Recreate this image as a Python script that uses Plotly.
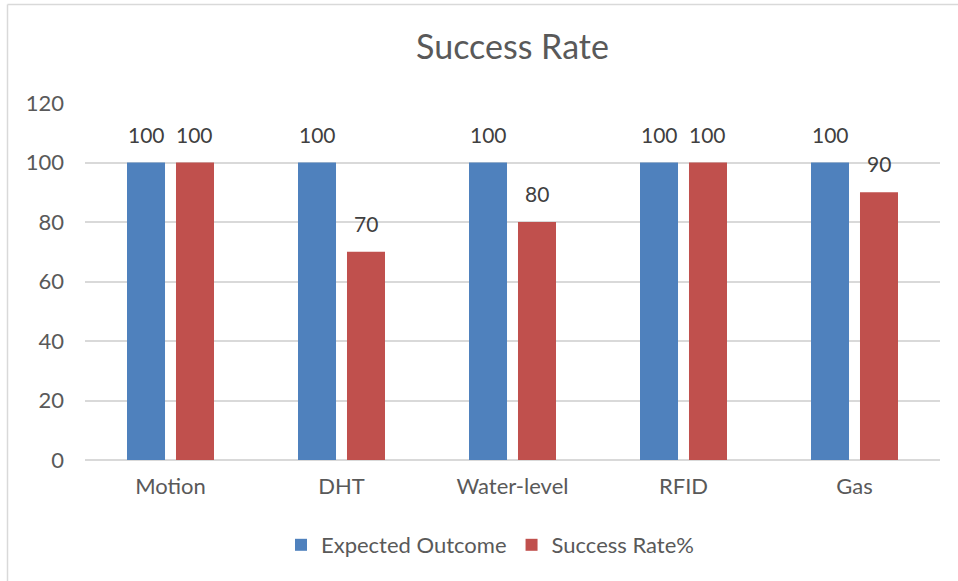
import plotly.graph_objects as go

categories = ["Motion", "DHT", "Water-level", "RFID", "Gas"]
expected = [100, 100, 100, 100, 100]
success = [100, 70, 80, 100, 90]
y_ticks = [0, 20, 40, 60, 80, 100, 120]

BLUE = "#4f81bd"
RED = "#c0504d"
GRID = "#d9d9d9"
TXT = "#595959"
LBL = "#404040"
FONT = "Lato"

L, R, T, B = 85, 18, 103, 121
W, H = 958, 581
pw, ph = W - L - R, H - T - B

fig = go.Figure()
fig.add_trace(go.Bar(name="Expected Outcome", x=categories, y=expected,
                     marker=dict(color=BLUE, line=dict(width=0))))
fig.add_trace(go.Bar(name="Success Rate%", x=categories, y=success,
                     marker=dict(color=RED, line=dict(width=0))))

bargap = 0.427
bgg = 0.224
slot = pw / len(categories) * (1 - bargap) / 2
off = slot / 2

annotations = []
for series, sign in ((expected, -1), (success, 1)):
    for c, v in zip(categories, series):
        annotations.append(dict(x=c, y=v, xref="x", yref="y", text=str(v),
                                showarrow=False, yanchor="bottom",
                                xshift=sign * off, yshift=14,
                                font=dict(family=FONT, size=21, color=LBL)))

bx = (7.5 - L) / pw
by = (H - B - 4.5) / ph
shapes = [
    dict(type="line", xref="paper", yref="paper", x0=bx, x1=bx, y0=-2, y1=by,
         line=dict(color=GRID, width=1.5)),
    dict(type="line", xref="paper", yref="paper", x0=bx, x1=2, y0=by, y1=by,
         line=dict(color=GRID, width=1.5)),
]

fig.update_layout(
    width=W, height=H,
    margin=dict(l=L, r=R, t=T, b=B),
    paper_bgcolor="white", plot_bgcolor="white",
    barmode="group", bargap=bargap, bargroupgap=bgg,
    title=dict(text="Success Rate", x=0.5, xref="paper", xanchor="center",
               y=1 - 47 / H, yanchor="middle",
               font=dict(family=FONT, size=34, color=TXT)),
    font=dict(family=FONT, color=TXT),
    showlegend=True,
    legend=dict(orientation="h", x=(490 - L) / pw, xanchor="center",
                y=(H - B - 545) / ph, yanchor="middle",
                font=dict(family=FONT, size=22, color=TXT),
                itemwidth=30, traceorder="normal"),
    annotations=annotations,
    shapes=shapes,
    xaxis=dict(showgrid=False, showline=False, ticks="", zeroline=False,
               tickfont=dict(family=FONT, size=22, color=TXT),
               ticklabelstandoff=11),
    yaxis=dict(range=[0, 120], tickvals=y_ticks, showgrid=True,
               gridcolor=GRID, gridwidth=1.5, zeroline=True,
               zerolinecolor=GRID, zerolinewidth=1.5, showline=False,
               ticks="", tickfont=dict(family=FONT, size=22, color=TXT),
               ticklabelstandoff=20),
)

fig.write_html("out.html")
